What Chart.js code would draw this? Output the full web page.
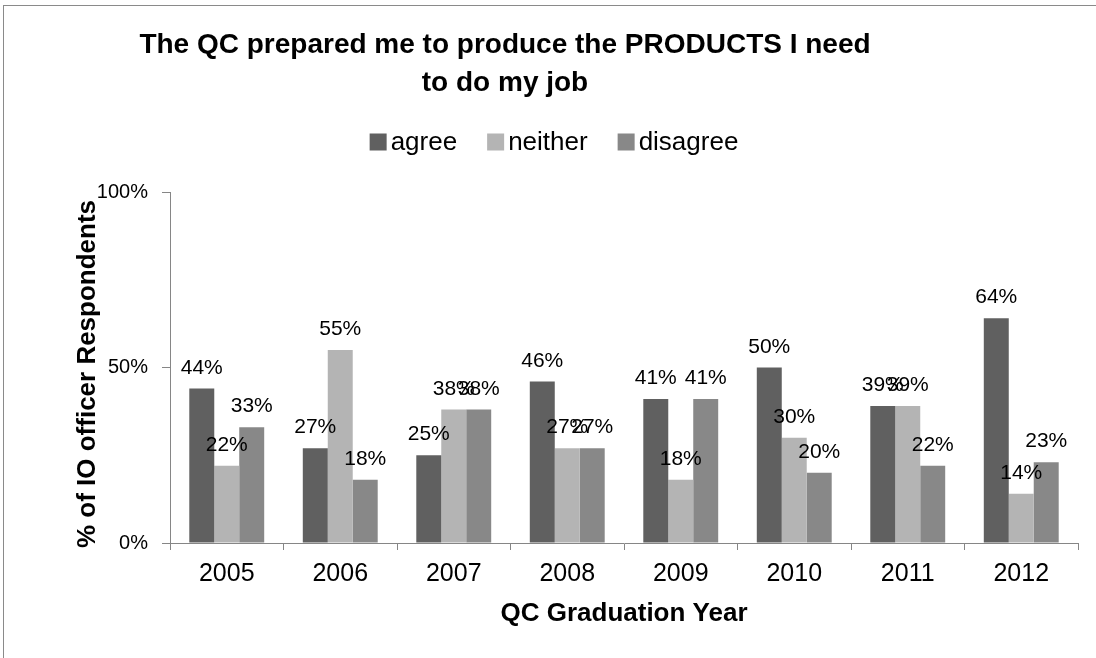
<!DOCTYPE html>
<html>
<head>
<meta charset="utf-8">
<script src="https://cdn.jsdelivr.net/npm/chart.js@4/dist/chart.umd.min.js"></script>
<style>
  html, body { margin: 0; padding: 0; background: #fff; }
  #wrap { position: relative; width: 1096px; height: 658px; }
  #frame { position: absolute; left: 3px; top: 5px; right: 0; bottom: 0;
           border-top: 1px solid #8a8a8a; border-left: 1px solid #8a8a8a; }
  canvas { position: absolute; left: 0; top: 0; }
</style>
</head>
<body>
<div id="wrap">
  <div id="frame"></div>
  <canvas id="chart" width="1096" height="658"></canvas>
</div>
<script>
const years = ['2005', '2006', '2007', '2008', '2009', '2010', '2011', '2012'];
const agree = [44, 27, 25, 46, 41, 50, 39, 64];
const neither = [22, 55, 38, 27, 18, 30, 39, 14];
const disagree = [33, 18, 38, 27, 41, 20, 22, 23];
const yTicks = [0, 50, 100];

const titleLines = ['The QC prepared me to produce the PRODUCTS I need', 'to do my job'];
const yTitle = '% of IO officer Respondents';
const FONT = "'Liberation Sans', Arial, sans-serif";
const axisGray = '#868686';

const data = {
    labels: years,
    datasets: [
        { label: 'agree', data: agree, backgroundColor: '#606060' },
        { label: 'neither', data: neither, backgroundColor: '#b4b4b4' },
        { label: 'disagree', data: disagree, backgroundColor: '#888888' }
    ]
};

// titolo, legenda, titolo asse y ed etichette dei valori disegnati a mano
const decor = {
    id: 'decor',
    afterDatasetsDraw(chart) {
        const c = chart.ctx;
        c.save();
        c.fillStyle = '#000';

        // etichette sopra le barre
        c.font = '21px ' + FONT;
        c.textAlign = 'center';
        c.textBaseline = 'alphabetic';
        chart.data.datasets.forEach((ds, i) => {
            chart.getDatasetMeta(i).data.forEach((bar, j) => {
                c.fillText(ds.data[j] + '%', bar.x, bar.y - 15);
            });
        });

        // titolo su due righe
        c.font = 'bold 28px ' + FONT;
        c.textBaseline = 'middle';
        titleLines.forEach((t, k) => c.fillText(t, 505, 45 + k * 38));

        // titolo asse y, ruotato
        c.save();
        c.translate(88, 374);
        c.rotate(-Math.PI / 2);
        c.font = 'bold 26px ' + FONT;
        c.fillText(yTitle, 0, 0);
        c.restore();

        // legenda
        c.font = '26px ' + FONT;
        c.textAlign = 'left';
        const box = 17, gapText = 4, gapItem = 30;
        const items = chart.data.datasets.map(ds => ({
            text: ds.label, color: ds.backgroundColor, w: box + gapText + c.measureText(ds.label).width
        }));
        const total = items.reduce((s, it) => s + it.w, 0) + gapItem * (items.length - 1);
        let x = 554 - total / 2;
        const yc = 142;
        items.forEach(it => {
            c.fillStyle = it.color;
            c.fillRect(x, yc - box / 2, box, box);
            c.fillStyle = '#000';
            c.fillText(it.text, x + box + gapText, yc + 1);
            x += it.w + gapItem;
        });
        c.restore();
    }
};

const chart = new Chart(document.querySelector('#chart'), {
    type: 'bar',
    data,
    plugins: [decor],
    options: {
        responsive: false,
        animation: false,
        layout: { padding: { top: 192, left: 72, right: 18, bottom: 29 } },
        datasets: { bar: { categoryPercentage: 0.66, barPercentage: 1 } },
        plugins: { legend: { display: false }, tooltip: { enabled: false } },
        scales: {
            x: {
                grid: { drawOnChartArea: false, color: axisGray, tickLength: 7 },
                border: { color: axisGray },
                ticks: { color: '#000', font: { family: FONT, size: 25 }, padding: 9 },
                title: { display: true, text: 'QC Graduation Year', color: '#000',
                         font: { family: FONT, size: 26, weight: 'bold' }, padding: 0 },
                afterFit: s => { s.height = 86; }
            },
            y: {
                min: 0,
                max: 100,
                afterBuildTicks: s => { s.ticks = yTicks.map(v => ({ value: v })); },
                grid: { drawOnChartArea: false, color: axisGray, tickLength: 8 },
                border: { color: axisGray },
                ticks: { color: '#000', font: { family: FONT, size: 20 }, padding: 14,
                         callback: v => v + '%' },
                afterFit: s => { s.width = 98; }
            }
        }
    }
});
</script>
</body>
</html>
